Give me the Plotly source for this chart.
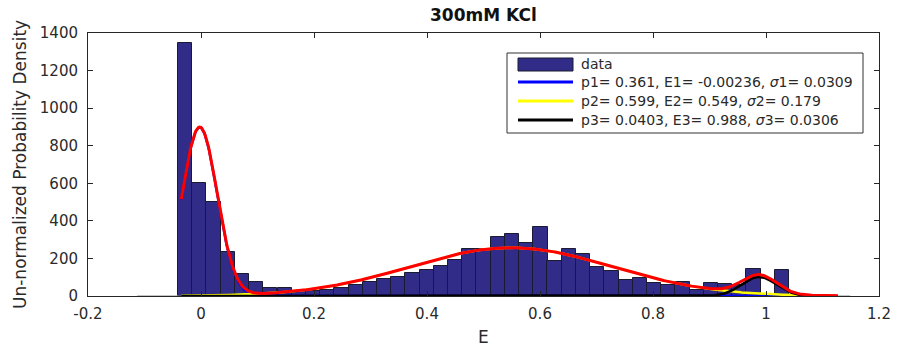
import numpy as np
import plotly.graph_objects as go

# Histogram of FRET efficiency E (bin centres and heights)
bin_width = 0.02515
bin_centers = [
    -0.0281, -0.0030, 0.0222, 0.0474, 0.0725, 0.0977, 0.1228, 0.1480, 0.1731, 0.1983,
    0.2234, 0.2486, 0.2737, 0.2989, 0.3240, 0.3492, 0.3743, 0.3995, 0.4246, 0.4498,
    0.4749, 0.5001, 0.5252, 0.5504, 0.5755, 0.6007, 0.6258, 0.6510, 0.6761, 0.7013,
    0.7264, 0.7516, 0.7767, 0.8019, 0.8270, 0.8522, 0.8773, 0.9025, 0.9276, 0.9528,
    0.9779, 1.0031, 1.0282,
]
counts = [
    1345, 603, 499, 236, 117, 73, 44, 40, 25, 27,
    32, 44, 58, 76, 89, 99, 121, 138, 161, 192,
    252, 250, 312, 328, 283, 368, 186, 252, 225, 155,
    135, 85, 94, 71, 59, 76, 32, 67, 64, 60,
    142, 5, 137,
]

# Three-Gaussian fit parameters (weight, centre, width)
p_vals = [0.361, 0.599, 0.0403]
E_vals = [-0.00236, 0.549, 0.988]
s_vals = [0.0309, 0.179, 0.0306]
p_text = ["0.361", "0.599", "0.0403"]
E_text = ["-0.00236", "0.549", "0.988"]
s_text = ["0.0309", "0.179", "0.0306"]
comp_colors = ["#0000ff", "#ffff00", "#000000"]

x_ticks = [-0.2, 0, 0.2, 0.4, 0.6, 0.8, 1.0, 1.2]
x_ticktext = ["-0.2", "0", "0.2", "0.4", "0.6", "0.8", "1", "1.2"]
y_ticks = [0, 200, 400, 600, 800, 1000, 1200, 1400]

fit_span = [-0.035, 1.127]
baseline_span = [-0.113, 1.149]

# scale the normalized mixture to the histogram area
scale = sum(counts) * bin_width
xg = np.linspace(fit_span[0], fit_span[1], 800)


def gauss(x, p, mu, s):
    return scale * p / (s * np.sqrt(2 * np.pi)) * np.exp(-(x - mu) ** 2 / (2 * s ** 2))


comps = [gauss(xg, p, m, s) for p, m, s in zip(p_vals, E_vals, s_vals)]
total = comps[0] + comps[1] + comps[2]

FONT = "DejaVu Sans"
TXT = "#2a2a2a"

fig = go.Figure()
fig.add_trace(go.Scatter(x=baseline_span, y=[0, 0], mode="lines",
                         line=dict(color="#8a8a8a", width=1), showlegend=False))
fig.add_trace(go.Bar(x=bin_centers, y=counts, width=bin_width,
                     marker=dict(color="#302c87", line=dict(color="#1a1a30", width=1)),
                     showlegend=False))
for c, col in zip(comps, comp_colors):
    fig.add_trace(go.Scatter(x=xg, y=c, mode="lines",
                             line=dict(color=col, width=2.5), showlegend=False))
fig.add_trace(go.Scatter(x=xg, y=total, mode="lines",
                         line=dict(color="#ff0000", width=3), showlegend=False))

# plot area in pixels: x 88..879, y 33..296
L, R, T, B = 88, 879, 33, 296


def px(xp):
    return (xp - L) / (R - L)


def py(yp):
    return (B - yp) / (B - T)


shapes = []
annos = []
# legend box
shapes.append(dict(type="rect", xref="paper", yref="paper",
                   x0=px(507), x1=px(863), y0=py(133), y1=py(53),
                   line=dict(color="#333333", width=1), fillcolor="white", layer="above"))
shapes.append(dict(type="rect", xref="paper", yref="paper",
                   x0=px(518), x1=px(573), y0=py(71), y1=py(58),
                   line=dict(color="#1a1a30", width=1), fillcolor="#302c87", layer="above"))
annos.append(dict(text="data", xref="paper", yref="paper", x=px(579), y=py(64),
                  xanchor="left", yanchor="middle", showarrow=False,
                  font=dict(family=FONT, size=14, color=TXT)))
row_y = [82, 101, 120]
for i in range(3):
    shapes.append(dict(type="line", xref="paper", yref="paper",
                       x0=px(518), x1=px(573), y0=py(row_y[i]), y1=py(row_y[i]),
                       line=dict(color=comp_colors[i], width=3), layer="above"))
    label = (f"p{i+1}= {p_text[i]}, E{i+1}= {E_text[i]}, "
             f"<i>σ</i>{i+1}= {s_text[i]}")
    annos.append(dict(text=label, xref="paper", yref="paper", x=px(579), y=py(row_y[i]),
                      xanchor="left", yanchor="middle", showarrow=False,
                      font=dict(family=FONT, size=14, color=TXT)))

# title and axis labels
annos.append(dict(text="<b>300mM KCl</b>", xref="paper", yref="paper",
                  x=px(483), y=py(15), xanchor="center", yanchor="middle",
                  showarrow=False, font=dict(family=FONT, size=17, color="#111111")))
annos.append(dict(text="E", xref="paper", yref="paper", x=px(483), y=py(337),
                  xanchor="center", yanchor="middle", showarrow=False,
                  font=dict(family=FONT, size=17, color=TXT)))
annos.append(dict(text="Un-normalized Probability Density", xref="paper", yref="paper",
                  x=px(20), y=py(165), xanchor="center", yanchor="middle",
                  textangle=-90, showarrow=False,
                  font=dict(family=FONT, size=17, color=TXT)))

axis_common = dict(showgrid=False, zeroline=False, showline=True, linecolor="#262626",
                   linewidth=1, mirror="ticks", ticks="inside", ticklen=5,
                   tickcolor="#262626", automargin=False,
                   tickfont=dict(family=FONT, size=15, color=TXT))

fig.update_layout(
    width=897, height=350,
    margin=dict(l=L, r=897 - R, t=T, b=350 - B),
    paper_bgcolor="white", plot_bgcolor="white",
    bargap=0, showlegend=False,
    xaxis=dict(range=[-0.2, 1.2], tickvals=x_ticks, ticktext=x_ticktext,
               ticklabelstandoff=4, **axis_common),
    yaxis=dict(range=[0, 1400], tickvals=y_ticks, ticklabelstandoff=6, **axis_common),
    shapes=shapes, annotations=annos,
)

fig.write_html("out.html")
